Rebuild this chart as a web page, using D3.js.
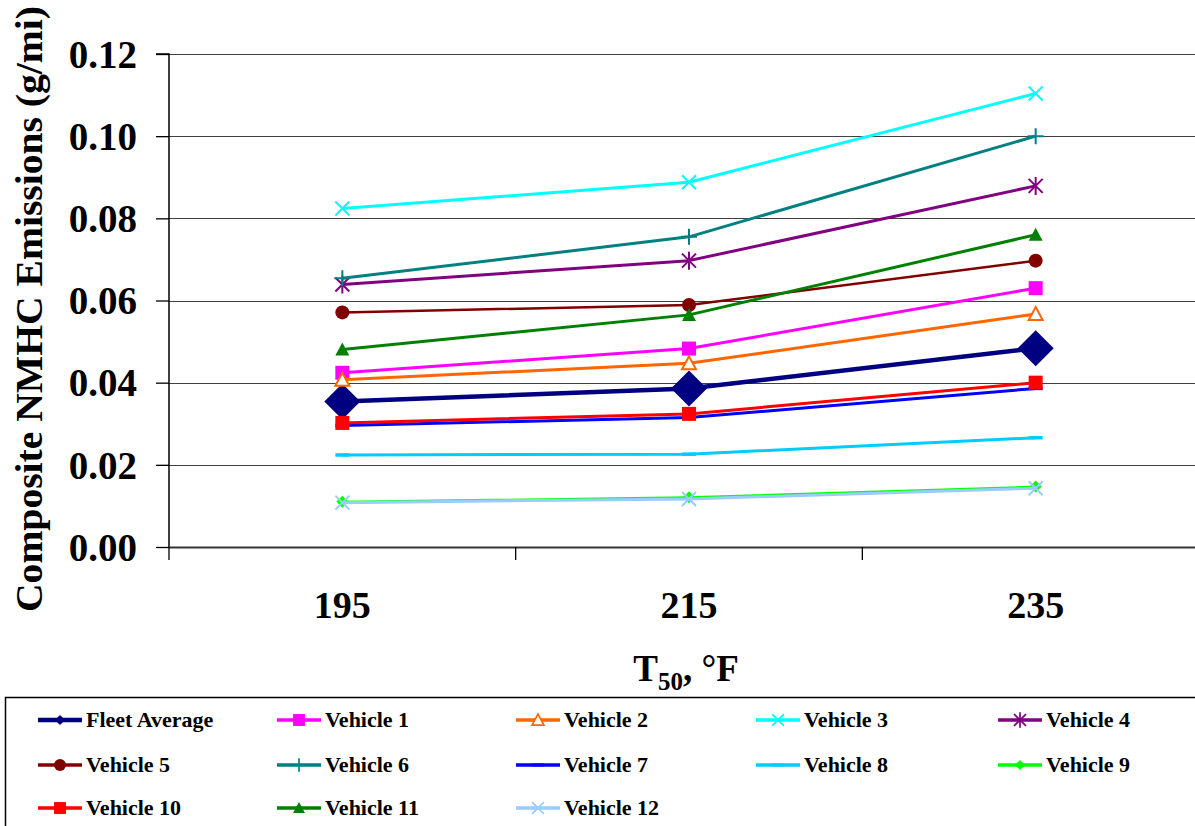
<!DOCTYPE html>
<html>
<head>
<meta charset="utf-8">
<script src="https://cdn.jsdelivr.net/npm/d3@7"></script>
<style>
  html, body { margin: 0; padding: 0; background: #fff; }
  svg { display: block; }
  text { font-family: "Liberation Serif", "Times New Roman", serif; font-weight: bold; fill: #000; }
</style>
</head>
<body>
<svg id="chart" width="1195" height="826"></svg>
<script>
// ---- Data ----
const categories = ["195", "215", "235"];
const yTicks = [0.00, 0.02, 0.04, 0.06, 0.08, 0.10, 0.12];

const fleetAverage = [0.0354, 0.0386, 0.0484];
const vehicle1  = [0.0424, 0.0483, 0.0630];
const vehicle2  = [0.0407, 0.0447, 0.0567];
const vehicle3  = [0.0824, 0.0888, 0.1104];
const vehicle4  = [0.0639, 0.0697, 0.0879];
const vehicle5  = [0.0571, 0.0589, 0.0697];
const vehicle6  = [0.0654, 0.0755, 0.1000];
const vehicle7  = [0.0296, 0.0315, 0.0386];
const vehicle8  = [0.0224, 0.0226, 0.0266];
const vehicle9  = [0.0110, 0.0121, 0.0147];
const vehicle10 = [0.0302, 0.0324, 0.0400];
const vehicle11 = [0.0481, 0.0565, 0.0760];
const vehicle12 = [0.0108, 0.0117, 0.0143];

const seriesNames = ["Fleet Average", "Vehicle 1", "Vehicle 2", "Vehicle 3", "Vehicle 4",
  "Vehicle 5", "Vehicle 6", "Vehicle 7", "Vehicle 8", "Vehicle 9",
  "Vehicle 10", "Vehicle 11", "Vehicle 12"];
const seriesValues = [fleetAverage, vehicle1, vehicle2, vehicle3, vehicle4, vehicle5,
  vehicle6, vehicle7, vehicle8, vehicle9, vehicle10, vehicle11, vehicle12];
const seriesColors = ["#000080", "#FF00FF", "#FF6600", "#00FFFF", "#800080",
  "#800000", "#008080", "#0000FF", "#00CCFF", "#00FF00",
  "#FF0000", "#008000", "#99CCFF"];
const seriesMarkers = ["bigdiamond", "square", "opentriangle", "x", "asterisk",
  "circle", "plus", "dash", "dash", "diamond",
  "square", "triangle", "x"];
const seriesWidths = [4.5, 3, 3, 3, 3, 2.5, 3, 3, 3, 2, 3, 3, 3];

// ---- Layout ----
const svg = d3.select("#chart");
const plot = { left: 169, top: 54, right: 1209, bottom: 547 };

const x = d3.scaleBand().domain(categories).range([plot.left, plot.right]).padding(0);
const y = d3.scaleLinear().domain([0, 0.12]).range([plot.bottom, plot.top]);
const cx = c => x(c) + x.bandwidth() / 2;

// gridlines
svg.append("g").selectAll("line").data(yTicks.filter(t => t > 0)).join("line")
  .attr("x1", plot.left).attr("x2", 1195)
  .attr("y1", d => Math.round(y(d)) + 0.5).attr("y2", d => Math.round(y(d)) + 0.5)
  .attr("stroke", "#000").attr("stroke-width", 1.2).attr("stroke-opacity", 0.75);

// y axis
const yAxis = d3.axisLeft(y).tickValues(yTicks).tickFormat(d3.format(".2f")).tickSize(13).tickPadding(19);
const gy = svg.append("g").attr("transform", `translate(${plot.left},0)`).call(yAxis);
gy.select(".domain").attr("stroke", "#000").attr("stroke-width", 1.5).attr("d", `M-13,${plot.top}H0V${plot.bottom}`);
gy.selectAll(".tick line").attr("stroke", "#000").attr("stroke-width", 1.3);
gy.selectAll(".tick text").style("font-size", "39px").style("font-family", '"Liberation Serif", serif')
  .style("font-weight", "bold").attr("fill", "#000").attr("dy", "0.34em");

// x axis (category with ticks between)
svg.append("line").attr("x1", plot.left).attr("x2", 1195)
  .attr("y1", plot.bottom + 0.5).attr("y2", plot.bottom + 0.5)
  .attr("stroke", "#333").attr("stroke-width", 2);
const bounds = categories.map(c => x(c)).concat([plot.right]);
svg.append("g").selectAll("line").data(bounds).join("line")
  .attr("x1", d => d).attr("x2", d => d)
  .attr("y1", plot.bottom).attr("y2", plot.bottom + 13)
  .attr("stroke", "#000").attr("stroke-width", 1.3);
svg.append("g").selectAll("text").data(categories).join("text")
  .attr("x", d => cx(d)).attr("y", 618)
  .attr("text-anchor", "middle").style("font-size", "38px").text(d => d);

// axis titles
const xt = svg.append("text").attr("x", 686).attr("y", 681).attr("text-anchor", "middle").style("font-size", "37px");
xt.append("tspan").text("T");
xt.append("tspan").attr("dy", 9).style("font-size", "25px").text("50");
xt.append("tspan").attr("dy", -9).text(", °F");

svg.append("text").attr("transform", "translate(42,309) rotate(-90)")
  .attr("text-anchor", "middle").style("font-size", "38px")
  .attr("textLength", 606).attr("lengthAdjust", "spacingAndGlyphs")
  .text("Composite NMHC Emissions (g/mi)");

// ---- Markers ----
function markerPath(type) {
  switch (type) {
    case "bigdiamond": return "M0,-18L18,0L0,18L-18,0Z";
    case "diamond": return "M0,-6L6,0L0,6L-6,0Z";
    case "square": return "M-7,-7H7V7H-7Z";
    case "triangle":
    case "opentriangle": return "M0,-7L7,6L-7,6Z";
    case "circle": return "M7,0A7,7 0 1,1 -7,0A7,7 0 1,1 7,0Z";
    case "x": return "M-7,-7L7,7M-7,7L7,-7";
    case "plus": return "M0,-8V8M-8,0H8";
    case "asterisk": return "M-7,-7L7,7M-7,7L7,-7M0,-9V9";
    case "dash": return "M-7,0H7";
  }
}
function styleMarker(sel, type, color) {
  const filled = ["bigdiamond", "diamond", "square", "triangle", "circle"].includes(type);
  if (filled) sel.attr("fill", color).attr("stroke", "none");
  else if (type === "opentriangle") sel.attr("fill", "#fff").attr("stroke", color).attr("stroke-width", 2);
  else sel.attr("fill", "none").attr("stroke", color).attr("stroke-width", type === "dash" ? 3.5 : 2);
}

// ---- Series ----
const line = d3.line().x((d, i) => cx(categories[i])).y(d => y(d));
const seriesG = svg.append("g");
d3.range(seriesNames.length).forEach(i => {
  const g = seriesG.append("g");
  g.append("path").attr("d", line(seriesValues[i])).attr("fill", "none")
    .attr("stroke", seriesColors[i]).attr("stroke-width", seriesWidths[i]).attr("stroke-linejoin", "round");
  g.selectAll("path.m").data(seriesValues[i]).join("path").attr("class", "m")
    .attr("transform", (d, j) => `translate(${cx(categories[j])},${y(d)})`)
    .attr("d", markerPath(seriesMarkers[i]))
    .call(s => styleMarker(s, seriesMarkers[i], seriesColors[i]));
});

// ---- Legend ----
svg.append("rect").attr("x", 5.5).attr("y", 697.5).attr("width", 1200).attr("height", 140)
  .attr("fill", "none").attr("stroke", "#000").attr("stroke-width", 1.5);
const colX = [38, 277, 516, 756, 998];
const rowY = [720, 765, 808];
seriesNames.forEach((name, i) => {
  const c = i % 5, r = Math.floor(i / 5);
  const lx = colX[c], ly = rowY[r];
  const g = svg.append("g");
  g.append("line").attr("x1", lx).attr("x2", lx + 44).attr("y1", ly).attr("y2", ly)
    .attr("stroke", seriesColors[i]).attr("stroke-width", i === 0 ? 4.5 : 3.5);
  const type = seriesMarkers[i] === "bigdiamond" ? "diamond" : seriesMarkers[i];
  g.append("path").attr("transform", `translate(${lx + 22},${ly}) scale(0.85)`).attr("d", markerPath(type))
    .call(s => styleMarker(s, type, seriesColors[i]));
  g.append("text").attr("x", lx + 48).attr("y", ly + 7).style("font-size", "22px").text(name);
});
</script>
</body>
</html>
